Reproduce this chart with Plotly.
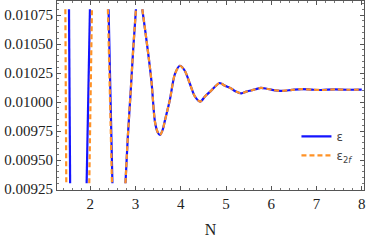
import plotly.graph_objects as go

# ---- data ----
# Early part (fast, large-amplitude oscillation; clipped at the plot range), None = off-range gap
eps_head_N = [1.530, 1.555, None, 1.920, 1.993, None, 2.405, 2.447, 2.490, None]
eps_head_v = [0.01080, 0.00930, None, 0.00930, 0.01080, None, 0.01080, 0.01005, 0.00930, None]

eps2f_head_N = [1.450, 1.470, None, 1.978, 2.037, None, 2.390, 2.435, 2.480, None]
eps2f_head_v = [0.01080, 0.00930, None, 0.00930, 0.01080, None, 0.01080, 0.01005, 0.00930, None]

# Damped tail where both curves coincide
tail_N = [2.778, 2.83, 2.89, 2.95, 3.01, None, 3.15, 3.22, 3.29, 3.355, 3.43, 3.49, 3.54,
          3.60, 3.65, 3.76, 3.87, 3.98, 4.09, 4.20, 4.31, 4.43, 4.54, 4.65, 4.75, 4.86,
          4.98, 5.10, 5.22, 5.34, 5.45, 5.55, 5.65, 5.77, 5.90, 6.02, 6.14, 6.26, 6.46,
          6.67, 6.90, 7.10, 7.40, 7.70, 8.00]
tail_v = [0.00930, 0.00970, 0.01007, 0.01046, 0.01080, None, 0.01080, 0.01060, 0.01039,
          0.01017, 0.00983, 0.00974, 0.009716, 0.00976, 0.00984, 0.01002, 0.01024, 0.010313,
          0.01027, 0.01016, 0.01005, 0.010004, 0.01005, 0.01009, 0.01013, 0.010164,
          0.01014, 0.01012, 0.01009, 0.010075, 0.01009, 0.01010, 0.01011, 0.010122,
          0.010115, 0.010105, 0.010099, 0.010097, 0.010105, 0.010112, 0.010107, 0.010104,
          0.010109, 0.010106, 0.010107]

x_ticks = [2, 3, 4, 5, 6, 7, 8]
y_ticks = [0.00925, 0.00950, 0.00975, 0.01000, 0.01025, 0.01050, 0.01075]

names = ["ε", "ε<sub>2<i>f</i></sub>"]

SERIF = "Liberation Serif"

fig = go.Figure()
fig.add_trace(go.Scatter(
    x=eps_head_N + tail_N, y=eps_head_v + tail_v, mode="lines", name=names[0],
    line=dict(color="#1414ff", width=2.2, shape="spline", smoothing=0.8),
    connectgaps=False))
fig.add_trace(go.Scatter(
    x=eps2f_head_N + tail_N, y=eps2f_head_v + tail_v, mode="lines", name=names[1],
    line=dict(color="#ff9226", width=2.2, dash="5px,3px", shape="spline", smoothing=0.8),
    connectgaps=False))

axis_common = dict(
    showline=True, linecolor="#555555", linewidth=1, mirror="allticks",
    ticks="inside", ticklen=4, tickcolor="#555555", showgrid=False, zeroline=False,
    tickfont=dict(family=SERIF, size=15, color="#222222"),
    ticklabeloverflow="allow", automargin=False,
)

fig.update_layout(
    width=374, height=243,
    margin=dict(l=57, r=10, t=1, b=53, autoexpand=False),
    paper_bgcolor="white", plot_bgcolor="white",
    showlegend=True,
    legend=dict(x=0.78, y=0.36, xanchor="left", yanchor="top",
                bgcolor="rgba(0,0,0,0)",
                font=dict(family="DejaVu Sans", size=12, color="#444444")),
    xaxis=dict(range=[1.265, 8.05], tickvals=x_ticks,
               ticktext=[str(t) for t in x_ticks],
               minor=dict(dtick=0.2, tick0=0, ticks="inside", ticklen=2, tickcolor="#777777"),
               title=dict(text="N", font=dict(family=SERIF, size=16, color="#222222"),
                          standoff=12),
               **axis_common),
    yaxis=dict(range=[0.009242, 0.010871], tickvals=y_ticks,
               ticktext=[f"{t:.5f}" for t in y_ticks],
               minor=dict(dtick=0.00005, tick0=0.00925, ticks="inside", ticklen=2, tickcolor="#777777"),
               **axis_common),
)

fig.write_html("out.html", config={"displayModeBar": False},
               post_script="document.body.style.margin='0';document.body.style.padding='0';")
